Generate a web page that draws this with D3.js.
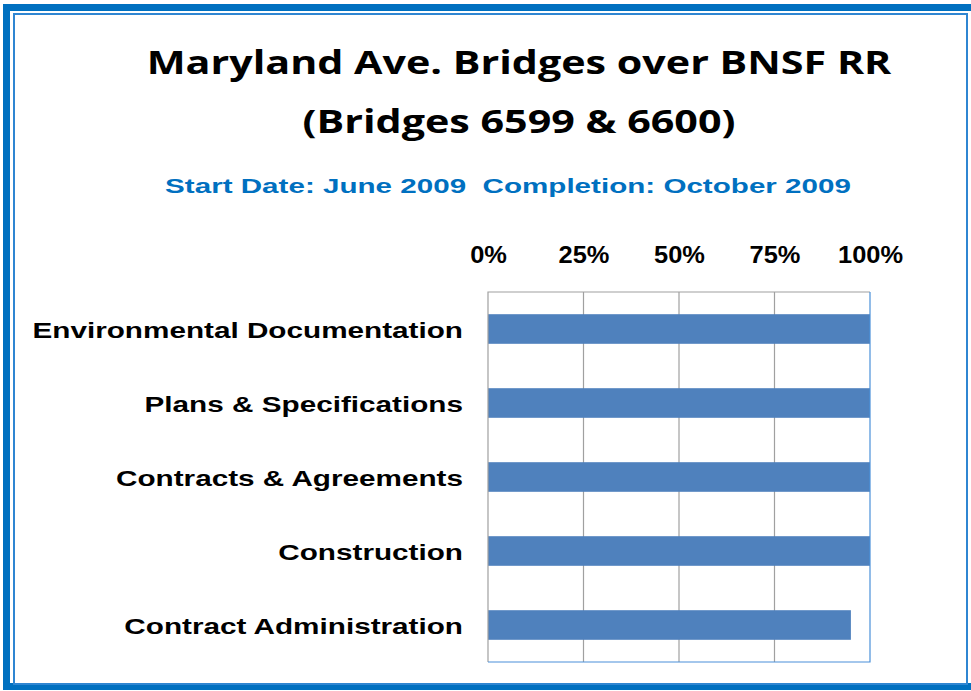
<!DOCTYPE html>
<html>
<head>
<meta charset="utf-8">
<script src="https://cdnjs.cloudflare.com/ajax/libs/d3/7.8.5/d3.min.js"></script>
<style>
  html, body { margin: 0; padding: 0; background: #fff; }
  svg { display: block; }
</style>
</head>
<body>
<div id="chart"></div>
<script>
// data
const categories = [
  "Environmental Documentation",
  "Plans & Specifications",
  "Contracts & Agreements",
  "Construction",
  "Contract Administration"
];
const percentDone = [100, 100, 100, 100, 95];
const tickValues = [0, 25, 50, 75, 100];

const titleLines = ["Maryland Ave. Bridges over BNSF RR", "(Bridges 6599 & 6600)"];
const subtitle = "Start Date: June 2009\u00a0\u00a0Completion: October 2009";

const width = 971, height = 691;
const plot = { left: 488, right: 870, top: 292, bottom: 662 };

const svg = d3.select("#chart").append("svg")
  .attr("width", width)
  .attr("height", height);

// frame
svg.append("rect")
  .attr("x", 6.5).attr("y", 7.5)
  .attr("width", 980).attr("height", 679)
  .attr("fill", "none")
  .attr("stroke", "#0070C0")
  .attr("stroke-width", 7);
svg.append("rect")
  .attr("x", 14).attr("y", 14)
  .attr("width", 953).attr("height", 670)
  .attr("fill", "#fff")
  .attr("stroke", "#2F86D2")
  .attr("stroke-width", 2);

// titles (original text is horizontally stretched, so scale x)
const title = svg.append("g")
  .attr("font-family", "'Open Sans', 'Noto Sans', sans-serif")
  .attr("font-weight", "bold")
  .attr("font-size", 33)
  .attr("fill", "#000")
  .attr("text-anchor", "middle");
title.selectAll("text")
  .data(titleLines)
  .enter().append("text")
  .attr("transform", (d, i) => `translate(519,${74 + i * 59}) scale(1.25,1)`)
  .text(d => d);

svg.append("text")
  .attr("transform", "translate(508,193) scale(1.41,1)")
  .attr("text-anchor", "middle")
  .attr("font-family", "'Liberation Sans', Arial, sans-serif")
  .attr("font-weight", "bold")
  .attr("font-size", 21)
  .attr("fill", "#0070C0")
  .text(subtitle);

// scales
const x = d3.scaleLinear().domain([0, 100]).range([plot.left, plot.right]);
const y = d3.scaleBand().domain(categories).range([plot.top, plot.bottom]).paddingInner(0.6).paddingOuter(0.3);

// grid
svg.append("g")
  .selectAll("line")
  .data(tickValues.slice(1, -1))
  .enter().append("line")
  .attr("x1", d => x(d)).attr("x2", d => x(d))
  .attr("y1", plot.top).attr("y2", plot.bottom)
  .attr("stroke", "#A0A0A0")
  .attr("stroke-width", 1.2);

// bars
svg.append("g")
  .selectAll("rect")
  .data(percentDone)
  .enter().append("rect")
  .attr("x", x(0))
  .attr("y", (d, i) => y(categories[i]))
  .attr("width", d => x(d) - x(0))
  .attr("height", y.bandwidth())
  .attr("fill", "#4F81BD");

// plot box: gray top/left, blue right/bottom
svg.append("path")
  .attr("d", `M${plot.left},${plot.bottom}V${plot.top}H${plot.right}`)
  .attr("fill", "none").attr("stroke", "#A0A0A0").attr("stroke-width", 1.2);
svg.append("path")
  .attr("d", `M${plot.right},${plot.top}V${plot.bottom}H${plot.left}`)
  .attr("fill", "none").attr("stroke", "#4A90D9").attr("stroke-width", 1.2);

// top axis labels
const xAxis = svg.append("g")
  .attr("transform", `translate(0,${plot.top})`)
  .call(d3.axisTop(x).tickValues(tickValues).tickFormat(d => d + "%").tickSize(0).tickPadding(29));
xAxis.select(".domain").remove();
xAxis.selectAll("text")
  .attr("font-family", "'Liberation Sans', Arial, sans-serif")
  .attr("font-weight", "bold")
  .attr("font-size", 24)
  .attr("fill", "#000")
  .attr("transform", "scale(1.06,1)");

// category labels
const yAxis = svg.append("g")
  .attr("transform", `translate(463,0)`)
  .call(d3.axisLeft(y).tickSize(0).tickPadding(0));
yAxis.select(".domain").remove();
yAxis.selectAll("text")
  .attr("font-family", "'Liberation Sans', Arial, sans-serif")
  .attr("font-weight", "bold")
  .attr("font-size", 22)
  .attr("fill", "#000")
  .attr("dy", "0.42em")
  .attr("transform", "scale(1.35,1)");
</script>
</body>
</html>
